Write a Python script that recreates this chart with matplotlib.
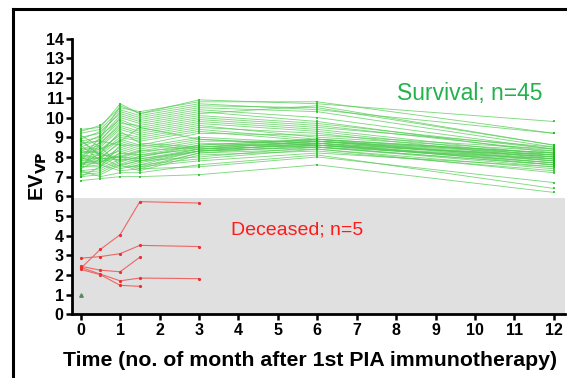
import matplotlib
matplotlib.use("Agg")
import matplotlib.pyplot as plt
from matplotlib.lines import Line2D
import numpy as np

plt.rcParams['font.family'] = ['Liberation Sans', 'DejaVu Sans']

# ---- data ----
times = [0, 0.5, 1, 1.5, 3, 6, 12]
# survival group, one array per time point (45 patients, same order)
surv_t0   = [9.4, 9.3, 9.2, 9.0, 8.9, 8.8, 8.7, 8.6, 8.5, 8.4, 8.3, 8.2, 8.2, 8.1, 8.0,
             7.9, 7.9, 7.8, 7.8, 7.7, 7.7, 7.6, 7.5, 7.5, 7.4, 7.3, 7.2, 7.1, 7.0, 6.8,
             9.1, 8.9, 8.6, 7.4, 7.9, 7.6, 8.0, 7.3, 8.4, 7.0, 8.8, 7.8, 8.3, 7.6, 8.1]
surv_t05  = [9.5, 9.6, 9.4, 9.2, 9.3, 9.0, 8.8, 9.1, 8.9, 8.7, 8.6, 8.5, 8.3, 8.4, 8.2,
             8.1, 7.9, 8.0, 8.8, 7.8, 7.7, 8.0, 7.6, 7.5, 7.9, 7.4, 7.3, 7.2, 7.1, 6.9,
             8.5, 8.0, 7.8, 8.7, 9.0, 8.2, 7.6, 7.0, 8.4, 7.5, 8.1, 7.8, 8.2, 7.7, 7.9]
surv_t1   = [10.7, 10.5, 10.4, 10.3, 10.2, 10.1, 10.0, 9.9, 9.8, 9.6, 9.5, 9.4, 9.2, 9.1, 9.0,
             8.9, 8.8, 8.7, 8.6, 8.5, 8.4, 8.3, 8.2, 8.1, 8.0, 7.9, 7.8, 7.7, 7.6, 7.0,
             7.6, 7.5, 7.4, 9.7, 10.6, 7.8, 7.3, 7.2, 8.8, 8.6, 8.0, 7.9, 9.3, 8.2, 8.0]
surv_t15  = [10.2, 10.3, 10.1, 10.0, 9.9, 9.8, 9.7, 9.5, 9.4, 9.3, 9.2, 9.1, 9.0, 8.9, 8.8,
             8.6, 8.5, 8.4, 8.3, 8.2, 8.1, 8.0, 7.9, 7.8, 7.7, 7.6, 7.5, 7.4, 7.3, 7.0,
             7.8, 7.5, 7.6, 9.6, 10.2, 8.0, 7.4, 7.2, 9.5, 8.6, 7.9, 7.8, 8.7, 8.1, 8.3]
surv_t3   = [10.9, 10.8, 10.6, 10.5, 10.4, 10.3, 10.2, 10.0, 9.9, 9.8, 9.7, 9.6, 9.5, 9.4, 9.3,
             9.2, 9.0, 8.9, 8.8, 8.7, 8.6, 8.5, 8.4, 8.4, 8.3, 8.3, 8.2, 8.2, 8.1, 7.1,
             8.0, 7.8, 7.9, 10.1, 10.7, 8.6, 7.5, 7.6, 8.9, 8.4, 8.3, 8.3, 8.5, 8.4, 8.5]
surv_t6   = [10.7, 10.8, 10.5, 10.3, 10.0, 9.8, 10.6, 9.6, 9.5, 9.4, 9.3, 9.0, 9.2, 8.9, 8.8,
             9.1, 8.7, 8.6, 8.8, 8.5, 8.9, 8.7, 8.6, 8.8, 8.5, 8.7, 8.4, 8.6, 8.3, 7.6,
             8.5, 8.2, 8.4, 9.7, 10.4, 8.9, 8.0, 8.1, 8.6, 8.8, 8.7, 8.5, 8.9, 8.6, 8.8]
surv_t12  = [9.8, 9.2, 8.6, 8.5, 8.4, 8.2, 8.6, 8.3, 8.5, 8.1, 8.0, 8.3, 7.9, 8.2, 7.8,
             8.4, 8.0, 7.7, 8.1, 7.9, 8.2, 7.6, 7.8, 8.0, 7.5, 7.7, 7.4, 7.9, 7.3, 6.2,
             7.6, 7.5, 7.2, 8.4, 9.2, 7.8, 6.7, 6.4, 8.1, 7.9, 8.0, 7.6, 8.1, 7.7, 8.2]

# deceased group
dec_a_t = [0, 0.5, 1, 1.5, 3]
dec_a   = [2.34, 3.31, 4.05, 5.73, 5.66]
dec_b_t = [0, 0.5, 1, 1.5, 3]
dec_b   = [2.86, 2.94, 3.09, 3.51, 3.45]
dec_c_t = [0, 0.5, 1, 1.5]
dec_c   = [2.45, 2.25, 2.17, 2.91]
dec_d_t = [0, 0.5, 1, 1.5, 3]
dec_d   = [2.39, 2.05, 1.71, 1.85, 1.82]
dec_e_t = [0, 0.5, 1, 1.5]
dec_e   = [2.29, 2.02, 1.48, 1.43]
outlier_t = [0]
outlier_v = [1.0]

xticks = list(range(0, 13))
yticks = list(range(0, 15))

# ---- figure ----
fig = plt.figure(figsize=(5.67, 3.78), dpi=100)
ax = fig.add_axes([0.127, 0.168, 0.87, 0.732])

ax.axhspan(0, 5.9, color='#e0e0e0', zorder=0, lw=0)

surv = np.array([surv_t0, surv_t05, surv_t1, surv_t15, surv_t3, surv_t6, surv_t12])
for i in range(surv.shape[1]):
    ax.plot(times, surv[:, i], color='#55cc55', lw=0.65, alpha=0.75, zorder=2,
            marker='s', ms=1.9, mfc='#11bb11', mec='#11bb11', mew=0)

for tt, vv in [(dec_a_t, dec_a), (dec_b_t, dec_b), (dec_c_t, dec_c),
               (dec_d_t, dec_d), (dec_e_t, dec_e)]:
    ax.plot(tt, vv, color='#ee6666', lw=0.8, zorder=3,
            marker='o', ms=2.3, mfc='#e83030', mec='#e83030', mew=0)

ax.plot(outlier_t, outlier_v, ls='none', marker='^', ms=2.5, color='#5a8a5a', zorder=3)

ax.text(0.953, 0.798, 'Survival; n=45', transform=ax.transAxes, color='#22b24c',
        fontsize=16.5, ha='right', va='center')
ax.text(0.59, 0.306, 'Deceased; n=5', transform=ax.transAxes, color='#ff1a1a',
        fontsize=14, ha='right', va='center')

ax.set_xlim(-0.22, 12.29)
ax.set_ylim(0, 14.05)
ax.set_xticks(xticks)
ax.set_yticks(yticks)
ax.tick_params(axis='both', direction='out', width=1.8, length=4, labelsize=11.5,
               pad=2)
for lab in ax.get_xticklabels() + ax.get_yticklabels():
    lab.set_fontweight('bold')
ax.spines['top'].set_visible(False)
ax.spines['right'].set_visible(False)
ax.spines['left'].set_linewidth(2)
ax.spines['bottom'].set_linewidth(2)
ax.spines['left'].set_bounds(0, 14)

ax.set_xlabel('Time (no. of month after 1st PIA immunotherapy)', fontsize=15.3,
              fontweight='bold')
ax.xaxis.set_label_coords(0.483, -0.132)
ax.set_ylabel(r'EV$_{\mathbf{VP}}$', fontsize=14.5, fontweight='bold')
ax.yaxis.set_label_coords(-0.047, 0.5)

# outer frame
fig.add_artist(Line2D([12.5 / 567, 12.5 / 567], [0, 1 - 9 / 378], color='black', lw=2.2,
                      transform=fig.transFigure))
fig.add_artist(Line2D([12.5 / 567, 1], [1 - 9 / 378, 1 - 9 / 378], color='black', lw=2.2,
                      transform=fig.transFigure))

fig.savefig('out.png', dpi=100)
